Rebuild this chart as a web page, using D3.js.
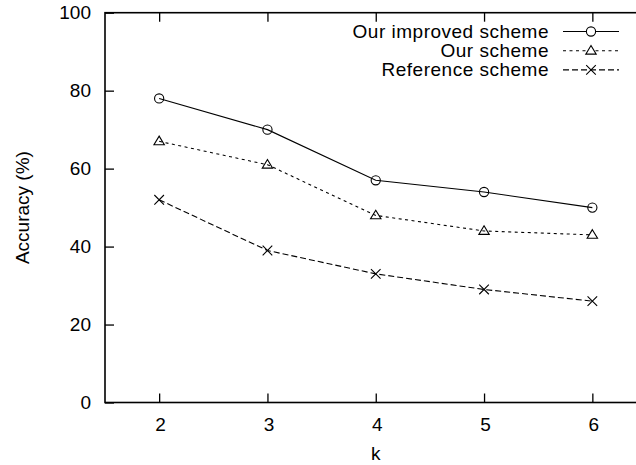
<!DOCTYPE html>
<html>
<head>
<meta charset="utf-8">
<script src="https://cdn.jsdelivr.net/npm/d3@7"></script>
<style>
  html, body { margin: 0; padding: 0; background: #fff; }
  svg { display: block; }
  text { font-family: "Liberation Sans", Arial, Helvetica, sans-serif; font-size: 19px; fill: #000; }
</style>
</head>
<body>
<svg id="chart" width="636" height="465"></svg>
<script>
// k values on the horizontal axis
const kValues = [2, 3, 4, 5, 6];
// accuracy (%) for each scheme
const improvedScheme = [78, 70, 57, 54, 50];
const ourScheme = [67, 61, 48, 44, 43];
const referenceScheme = [52, 39, 33, 29, 26];
const yTicks = [0, 20, 40, 60, 80, 100];
const seriesNames = ["Our improved scheme", "Our scheme", "Reference scheme"];

const series = [
  { name: seriesNames[0], values: improvedScheme, dash: null, marker: "circle" },
  { name: seriesNames[1], values: ourScheme, dash: "3,3.5", marker: "triangle" },
  { name: seriesNames[2], values: referenceScheme, dash: "6,3", marker: "cross" }
];

const svg = d3.select("#chart");
const plotLeft = 105, plotRight = 646.5, plotTop = 12.7, plotBottom = 402.5;

const x = d3.scaleLinear().domain([1.5, 6.5]).range([plotLeft, plotRight]);
const y = d3.scaleLinear().domain([0, 100]).range([plotBottom, plotTop]);

// marker shapes (unfilled, as in a classic plot)
function markerPath(type) {
  const p = d3.path();
  if (type === "circle") {
    p.moveTo(4.6, 0);
    p.arc(0, 0, 4.6, 0, 2 * Math.PI);
  } else if (type === "triangle") {
    p.moveTo(0, -5.2);
    p.lineTo(5.2, 3.4);
    p.lineTo(-5.2, 3.4);
    p.closePath();
  } else {
    p.moveTo(-4.8, -4.8); p.lineTo(4.8, 4.8);
    p.moveTo(-4.8, 4.8); p.lineTo(4.8, -4.8);
  }
  return p.toString();
}

// axes with inward ticks
const xAxis = svg.append("g")
  .attr("transform", `translate(0,${plotBottom})`)
  .call(d3.axisBottom(x).tickValues(kValues).tickSize(-9).tickPadding(15).tickFormat(d3.format("d")));
svg.append("g")
  .attr("transform", `translate(0,${plotTop})`)
  .call(d3.axisTop(x).tickValues(kValues).tickSize(-9).tickFormat(""));
const yAxis = svg.append("g")
  .attr("transform", `translate(${plotLeft},0)`)
  .call(d3.axisLeft(y).tickValues(yTicks).tickSize(-9).tickPadding(14).tickFormat(d3.format("d")));

svg.selectAll(".domain").remove();
svg.selectAll(".tick line").attr("stroke", "#000").attr("stroke-width", 1.3);
svg.selectAll(".tick text")
  .attr("fill", "#000")
  .style("font-family", "'Liberation Sans', Arial, Helvetica, sans-serif")
  .style("font-size", "19px");
xAxis.selectAll(".tick text").attr("dx", "1");

// plot frame
svg.append("rect")
  .attr("x", plotLeft).attr("y", plotTop)
  .attr("width", plotRight - plotLeft).attr("height", plotBottom - plotTop)
  .attr("fill", "none").attr("stroke", "#000").attr("stroke-width", 1.6);

// axis titles
svg.append("text")
  .attr("transform", `translate(22,${(plotTop + plotBottom) / 2}) rotate(-90)`)
  .attr("text-anchor", "middle")
  .attr("dominant-baseline", "central")
  .text("Accuracy (%)");
svg.append("text")
  .attr("x", (plotLeft + plotRight) / 2).attr("y", 460)
  .attr("text-anchor", "middle")
  .text("k");

// data series
const line = d3.line().x((d, i) => x(kValues[i])).y(d => y(d));
series.forEach(s => {
  svg.append("path")
    .attr("d", line(s.values))
    .attr("fill", "none")
    .attr("stroke", "#000")
    .attr("stroke-width", 1.1)
    .attr("stroke-dasharray", s.dash);
  svg.append("g").selectAll("path")
    .data(s.values)
    .join("path")
    .attr("transform", (d, i) => `translate(${x(kValues[i])},${y(d)})`)
    .attr("d", markerPath(s.marker))
    .attr("fill", "none")
    .attr("stroke", "#000")
    .attr("stroke-width", 1.1);
});

// legend
const legend = svg.append("g");
series.forEach((s, i) => {
  const cy = 31.5 + i * 19.2;
  legend.append("text")
    .attr("x", 549).attr("y", cy)
    .attr("text-anchor", "end")
    .attr("dominant-baseline", "central")
    .attr("letter-spacing", "0.5px")
    .text(s.name);
  legend.append("line")
    .attr("x1", 563).attr("x2", 619)
    .attr("y1", cy).attr("y2", cy)
    .attr("stroke", "#000").attr("stroke-width", 1.1)
    .attr("stroke-dasharray", s.dash);
  legend.append("path")
    .attr("transform", `translate(591,${cy})`)
    .attr("d", markerPath(s.marker))
    .attr("fill", "#fff")
    .attr("stroke", "#000").attr("stroke-width", 1.1);
});
</script>
</body>
</html>
